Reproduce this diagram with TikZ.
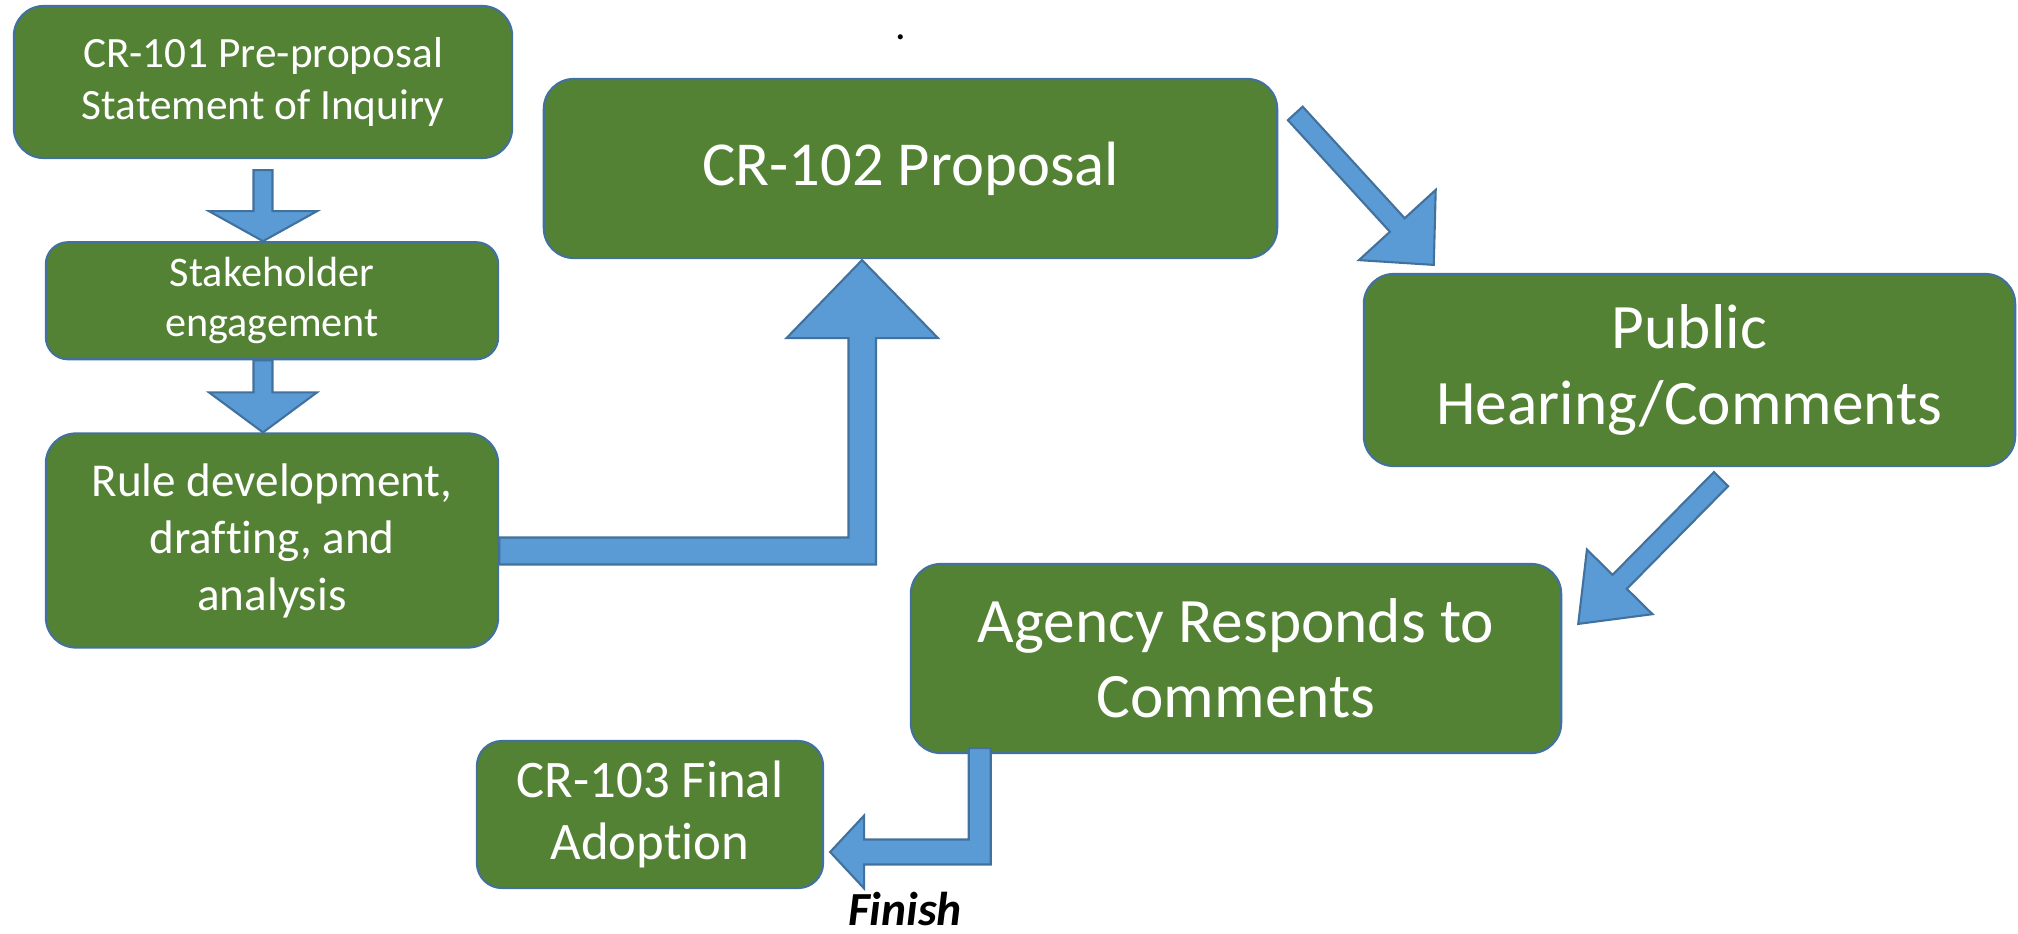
\documentclass[tikz,border=0pt]{standalone}
\usepackage{fontspec}
\setmainfont{Carlito}[Ligatures=NoCommon]
\usetikzlibrary{positioning,calc}
\definecolor{stagegreen}{RGB}{84,130,53}
\definecolor{edgeblue}{RGB}{65,113,156}
\definecolor{arrowblue}{RGB}{91,155,213}

\tikzset{
  stagebox/.style={rectangle, rounded corners=0.3cm, draw=edgeblue, line width=0.6pt,
    fill=stagegreen, text=white, align=center, inner sep=0pt},
  blockarrow/.style={draw=edgeblue, line width=0.6pt, fill=arrowblue, line join=miter},
}

% tail, tip, half shaft, half head, head length
\newcommand{\stagearrow}[5]{%
  \coordinate (headbase) at ($(#2)!#5!(#1)$);
  \draw[blockarrow] ($(#1)!#3!90:(#2)$) -- ($(headbase)!#3!90:(#2)$)
    -- ($(headbase)!#4!90:(#2)$) -- (#2) -- ($(headbase)!#4!-90:(#2)$)
    -- ($(headbase)!#3!-90:(#2)$) -- ($(#1)!#3!-90:(#2)$) -- cycle;
}

\begin{document}
\begin{tikzpicture}[x=0.01cm, y=-0.01cm]
\useasboundingbox (0,0) rectangle (2018,933);

\node[stagebox, minimum width=4.98cm, minimum height=1.52cm,
  font=\fontsize{12.3}{14.8}\selectfont] (preproposal) at (263,82) {
    CR-101 Pre-proposal\\
    Statement of Inquiry
    };
\node[stagebox, below=0.82cm of preproposal, xshift=0.09cm, rounded corners=0.22cm,
  minimum width=4.52cm, minimum height=1.17cm,
  font=\fontsize{12}{14.2}\selectfont] (stakeholder) {
    Stakeholder\\
    engagement
    };
\node[stagebox, below=0.72cm of stakeholder, minimum width=4.52cm, minimum height=2.14cm,
  font=\fontsize{13.4}{16.2}\selectfont] (ruledev) {
    Rule development,\\
    drafting, and\\
    analysis
    };

    % -------

\node[stagebox, minimum width=7.33cm, minimum height=1.79cm,
  font=\fontsize{17.8}{21.6}\selectfont] (proposal) at (910.5,168.5) {CR-102 Proposal};
\node[stagebox, minimum width=6.51cm, minimum height=1.92cm,
  font=\fontsize{18}{21.6}\selectfont] (hearing) at (1689.5,370) {
    Public\\
    Hearing/Comments
    };
\node[stagebox, minimum width=6.50cm, minimum height=1.89cm,
  font=\fontsize{18}{21.2}\selectfont] (responds) at (1236,658.5) {
    Agency Responds to\\
    Comments
    };
\node[stagebox, rounded corners=0.25cm, minimum width=3.46cm, minimum height=1.47cm,
  font=\fontsize{15}{17.6}\selectfont] (adoption) at (650,814.5) {
    CR-103 Final\\
    Adoption
    };

\node[anchor=base, font=\fontsize{12}{14}\selectfont] (dot) at (901,39) {.};

    % -------

\coordinate (a1tail) at ($(preproposal.south)+(0,11)$);
\coordinate (a1tip) at (preproposal.south |- stakeholder.north);
\stagearrow{a1tail}{a1tip}{0.095cm}{0.54cm}{0.30cm}

\coordinate (a2tail) at (preproposal.south |- stakeholder.south);
\coordinate (a2tip) at (preproposal.south |- ruledev.north);
\stagearrow{a2tail}{a2tip}{0.095cm}{0.54cm}{0.40cm}

\coordinate (a3start) at ($(ruledev.east)+(0,10.5)$);
\coordinate (a3tip) at ($(proposal.south)+(-48.5,1)$);
\draw[blockarrow] ($(a3start)+(0,-13.5)$) -| ($(a3tip)+(-13.5,78)$) -- ++(-62,0)
  -- (a3tip) -- ++(76,78) -- ++(-62,0) |- ($(a3start)+(0,13.5)$) -- cycle;

\coordinate (a4tail) at ($(proposal.north east)+(17,35.5)$);
\coordinate (a4tip) at ($(hearing.north west)+(71,-8)$);
\stagearrow{a4tail}{a4tip}{0.10cm}{0.52cm}{0.54cm}

\coordinate (a5tail) at ($(hearing.south)+(31.5,12)$);
\coordinate (a5tip) at ($(responds.north east)+(16,61)$);
\stagearrow{a5tail}{a5tip}{0.10cm}{0.46cm}{0.59cm}

\coordinate (a6start) at ($(responds.south west)+(70,-6)$);
\coordinate (a6tip) at ($(adoption.east)+(6,37.5)$);
\draw[blockarrow] ($(a6start)+(11,0)$) |- ($(a6tip)+(34,12.5)$) -- ++(0,24)
  -- (a6tip) -- ++(34,-36.5) -- ++(0,24) -| ($(a6start)+(-11,0)$) -- cycle;

\node[anchor=base, font=\fontsize{13.5}{15}\selectfont\bfseries\itshape] (finish) at (905,925) {Finish};

\end{tikzpicture}
\end{document}
